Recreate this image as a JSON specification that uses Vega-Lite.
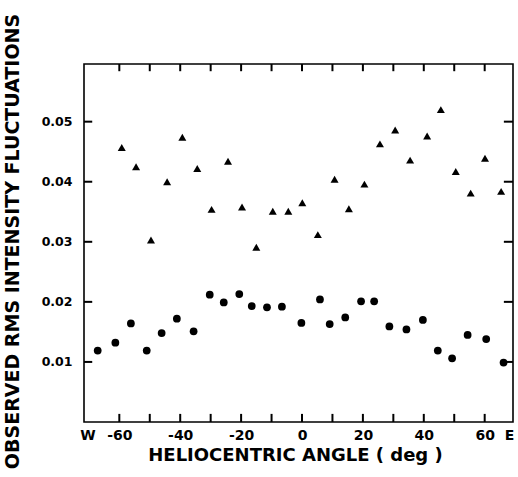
{
  "$schema": "https://vega.github.io/schema/vega-lite/v6.json",
  "width": 429,
  "height": 358,
  "autosize": {"type": "none"},
  "padding": {"left": 84, "top": 64, "right": 5, "bottom": 55},
  "background": "white",
  "config": {
    "view": {"stroke": "black", "strokeWidth": 1.6},
    "axis": {
      "domain": false, "ticks": false, "grid": false,
      "labelColor": "black", "labelFont": "DejaVu Sans", "labelFontWeight": "bold",
      "titleFont": "DejaVu Sans", "titleColor": "black", "titleFontWeight": "bold"
    }
  },
  "datasets": {
    "tri": [
      {"angle": -59.2, "rms": 0.0457}, {"angle": -54.5, "rms": 0.0425}, {"angle": -49.6, "rms": 0.0303},
      {"angle": -44.3, "rms": 0.0400}, {"angle": -39.3, "rms": 0.0474}, {"angle": -34.4, "rms": 0.0422},
      {"angle": -29.7, "rms": 0.0354}, {"angle": -24.3, "rms": 0.0434}, {"angle": -19.7, "rms": 0.0358},
      {"angle": -15.0, "rms": 0.0291}, {"angle": -9.6, "rms": 0.0351}, {"angle": -4.5, "rms": 0.0351},
      {"angle": 0.1, "rms": 0.0365}, {"angle": 5.2, "rms": 0.0312}, {"angle": 10.7, "rms": 0.0404},
      {"angle": 15.4, "rms": 0.0355}, {"angle": 20.5, "rms": 0.0396}, {"angle": 25.6, "rms": 0.0463},
      {"angle": 30.6, "rms": 0.0486}, {"angle": 35.5, "rms": 0.0436}, {"angle": 41.1, "rms": 0.0476},
      {"angle": 45.6, "rms": 0.0520}, {"angle": 50.5, "rms": 0.0417}, {"angle": 55.4, "rms": 0.0381},
      {"angle": 60.1, "rms": 0.0439}, {"angle": 65.4, "rms": 0.0384}
    ],
    "dot": [
      {"angle": -67.1, "rms": 0.0119}, {"angle": -61.3, "rms": 0.0132}, {"angle": -56.2, "rms": 0.0164},
      {"angle": -51.0, "rms": 0.0119}, {"angle": -46.1, "rms": 0.0148}, {"angle": -41.1, "rms": 0.0172},
      {"angle": -35.6, "rms": 0.0151}, {"angle": -30.3, "rms": 0.0212}, {"angle": -25.7, "rms": 0.0199},
      {"angle": -20.6, "rms": 0.0213}, {"angle": -16.5, "rms": 0.0193}, {"angle": -11.5, "rms": 0.0191},
      {"angle": -6.6, "rms": 0.0192}, {"angle": -0.2, "rms": 0.0165}, {"angle": 5.9, "rms": 0.0204},
      {"angle": 9.1, "rms": 0.0163}, {"angle": 14.2, "rms": 0.0174}, {"angle": 19.4, "rms": 0.0201},
      {"angle": 23.7, "rms": 0.0201}, {"angle": 28.7, "rms": 0.0159}, {"angle": 34.3, "rms": 0.0154},
      {"angle": 39.7, "rms": 0.0170}, {"angle": 44.6, "rms": 0.0119}, {"angle": 49.3, "rms": 0.0106},
      {"angle": 54.4, "rms": 0.0145}, {"angle": 60.5, "rms": 0.0138}, {"angle": 66.2, "rms": 0.0099}
    ],
    "xticks": [
      {"v": -60}, {"v": -50}, {"v": -40}, {"v": -30}, {"v": -20}, {"v": -10}, {"v": 0},
      {"v": 10}, {"v": 20}, {"v": 30}, {"v": 40}, {"v": 50}, {"v": 60}
    ],
    "yticks": [
      {"v": 0.01}, {"v": 0.02}, {"v": 0.03}, {"v": 0.04}, {"v": 0.05}
    ]
  },
  "layer": [
    {
      "data": {"name": "tri"},
      "mark": {"type": "point", "shape": "triangle-up", "filled": true, "color": "black", "size": 64, "opacity": 1},
      "encoding": {
        "x": {
          "field": "angle", "type": "quantitative",
          "scale": {"domain": [-71.6, 69.3], "nice": false, "zero": false},
          "axis": {
            "orient": "bottom",
            "values": [-70.5, -60, -40, -20, 0, 20, 40, 60, 68],
            "labelExpr": "datum.value < -65 ? 'W' : (datum.value > 65 ? 'E' : '' + datum.value)",
            "labelFontSize": 14,
            "labelPadding": 6, "labelFlush": false, "labelOverlap": false, "labelBound": false,
            "title": "HELIOCENTRIC ANGLE ( deg )",
            "titleFontSize": 18, "titleX": 211, "titleY": 38, "titleAlign": "center", "titleBaseline": "alphabetic"
          }
        },
        "y": {
          "field": "rms", "type": "quantitative",
          "scale": {"domain": [0, 0.0596], "nice": false, "zero": false},
          "axis": {
            "orient": "left",
            "values": [0.01, 0.02, 0.03, 0.04, 0.05],
            "format": ".2f",
            "labelFontSize": 12.5,
            "labelPadding": 12,
            "title": "OBSERVED RMS INTENSITY FLUCTUATIONS",
            "titleFontSize": 19, "titleX": -71.5, "titleY": 177, "titleAngle": -90,
            "titleAlign": "center", "titleBaseline": "middle"
          }
        }
      }
    },
    {
      "data": {"name": "dot"},
      "mark": {"type": "point", "shape": "circle", "filled": true, "color": "black", "size": 60, "opacity": 1},
      "encoding": {
        "x": {"field": "angle", "type": "quantitative"},
        "y": {"field": "rms", "type": "quantitative"}
      }
    },
    {
      "data": {"name": "xticks"},
      "mark": {"type": "rule", "color": "black", "strokeWidth": 2},
      "encoding": {
        "x": {"field": "v", "type": "quantitative"},
        "y": {"datum": 0, "type": "quantitative"},
        "y2": {"datum": 0.00135}
      }
    },
    {
      "data": {"name": "xticks"},
      "mark": {"type": "rule", "color": "black", "strokeWidth": 2},
      "encoding": {
        "x": {"field": "v", "type": "quantitative"},
        "y": {"datum": 0.0596, "type": "quantitative"},
        "y2": {"datum": 0.0584}
      }
    },
    {
      "data": {"name": "yticks"},
      "mark": {"type": "rule", "color": "black", "strokeWidth": 2},
      "encoding": {
        "y": {"field": "v", "type": "quantitative"},
        "x": {"datum": -71.6, "type": "quantitative"},
        "x2": {"datum": -68.9}
      }
    },
    {
      "data": {"name": "yticks"},
      "mark": {"type": "rule", "color": "black", "strokeWidth": 2},
      "encoding": {
        "y": {"field": "v", "type": "quantitative"},
        "x": {"datum": 69.3, "type": "quantitative"},
        "x2": {"datum": 66.3}
      }
    }
  ]
}
